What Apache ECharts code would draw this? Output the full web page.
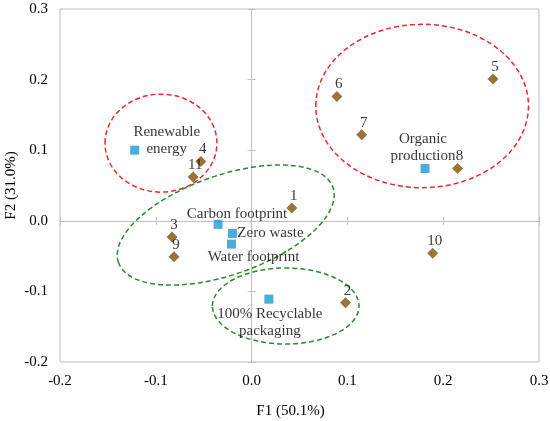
<!DOCTYPE html>
<html>
<head>
<meta charset="utf-8">
<script src="https://cdn.jsdelivr.net/npm/echarts@6/dist/echarts.min.js"></script>
<style>
  html, body { margin: 0; padding: 0; background: #fff; }
  #biplot { width: 550px; height: 421px; }
</style>
</head>
<body>
<div id="biplot"></div>
<script>
// observations (numbered brown diamonds)
var obsNames = ["1", "2", "3", "4", "5", "6", "7", "8", "9", "10", "11"];
var obsF1 = [0.042, 0.098, -0.083, -0.053, 0.252, 0.089, 0.115, 0.215, -0.081, 0.189, -0.061];
var obsF2 = [0.018, -0.116, -0.023, 0.084, 0.201, 0.176, 0.122, 0.074, -0.051, -0.046, 0.062];

// attributes (blue squares)
var attrNames = ["Renewable\nenergy", "Organic\nproduction", "Carbon footprint", "Zero waste", "Water footprint", "100% Recyclable\npackaging"];
var attrF1 = [-0.122, 0.181, -0.035, -0.020, -0.021, 0.018];
var attrF2 = [0.100, 0.074, -0.005, -0.018, -0.033, -0.111];

// group ellipses: centre (F1, F2), radii (F1 units, F2 units), tilt in degrees
var ellCx = [-0.0946, 0.178, -0.027, 0.0356];
var ellCy = [0.110, 0.1626, -0.006, -0.1207];
var ellRx = [0.0584, 0.111, 0.1186, 0.0765];
var ellRy = [0.0694, 0.1157, 0.0703, 0.0538];
var ellTilt = [0, 0, 19.3, 0];
var ellGroup = ["red", "red", "green", "green"];

var FONT = "Liberation Serif";
var GRIDLINE = "#bfbfbf";
var colors = { red: "#f0262a", green: "#2b8a2b" };

// where each attribute label sits relative to its square
var attrLabelOffset = {
  "Renewable\nenergy": [32, -10],
  "Organic\nproduction": [-2, -21],
  "Carbon footprint": [19, -10],
  "Zero waste": [38, 0],
  "Water footprint": [22, 13],
  "100% Recyclable\npackaging": [1, 23]
};

var obsData = obsNames.map(function (n, i) {
  return { name: n, value: [obsF1[i], obsF2[i]] };
});
var attrData = attrNames.map(function (n, i) {
  return {
    name: n,
    value: [attrF1[i], attrF2[i]],
    label: { offset: attrLabelOffset[n] }
  };
});
var ellData = ellCx.map(function (c, i) {
  return [c, ellCy[i], ellRx[i], ellRy[i], ellTilt[i], ellGroup[i]];
});

function fmt(v) { return v.toFixed(1); }

var labelAxis = {
  type: "value", min: -0.2, max: 0.3, interval: 0.1,
  axisLine: { show: false, onZero: false },
  axisTick: { show: false },
  splitLine: { show: false },
  axisLabel: { formatter: fmt, color: "#000", fontFamily: FONT, fontSize: 15 }
};
function zeroAxis(inside, onZeroIdx) {
  return {
    type: "value", min: -0.2, max: 0.3, interval: 0.1,
    axisLine: { show: true, onZero: true, onZeroAxisIndex: onZeroIdx, lineStyle: { color: GRIDLINE, width: 1 } },
    axisTick: { show: true, inside: inside, length: 4, lineStyle: { color: GRIDLINE } },
    splitLine: { show: false },
    axisLabel: { show: false }
  };
}

var chart = echarts.init(document.getElementById("biplot"));
var option = {
  animation: false,
  backgroundColor: "#fff",
  grid: {
    left: 60, right: 11, top: 9, bottom: 59,
    outerBoundsMode: "none", containLabel: false,
    show: true, borderColor: GRIDLINE, borderWidth: 1
  },
  xAxis: [
    Object.assign({}, labelAxis, {
      position: "bottom",
      name: "F1 (50.1%)", nameLocation: "middle", nameGap: 42,
      nameTextStyle: { color: "#000", fontFamily: FONT, fontSize: 15, padding: [0, 18, 0, 0] },
      axisLabel: Object.assign({}, labelAxis.axisLabel, { margin: 12 })
    }),
    Object.assign(zeroAxis(false, 0), { position: "bottom" }),
    Object.assign(zeroAxis(true, 0), { position: "bottom" })
  ],
  yAxis: [
    Object.assign({}, labelAxis, {
      position: "left",
      name: "F2 (31.0%)", nameLocation: "middle", nameGap: 41, nameMoveOverlap: false,
      nameTextStyle: { color: "#000", fontFamily: FONT, fontSize: 15 },
      axisLabel: Object.assign({}, labelAxis.axisLabel, { margin: 12 })
    }),
    Object.assign(zeroAxis(false, 0), { position: "left" }),
    Object.assign(zeroAxis(true, 0), { position: "left" })
  ],
  series: [
    {
      type: "custom",
      silent: true,
      xAxisIndex: 0, yAxisIndex: 0,
      data: ellData,
      renderItem: function (params, api) {
        var c = api.coord([api.value(0), api.value(1)]);
        var s = api.size([api.value(2), api.value(3)]);
        var d = ellData[params.dataIndex];
        return {
          type: "ellipse",
          x: c[0], y: c[1],
          rotation: d[4] * Math.PI / 180,
          shape: { cx: 0, cy: 0, rx: s[0], ry: s[1] },
          style: { fill: "none", stroke: colors[d[5]], lineWidth: 1.5, lineDash: [5, 3] }
        };
      },
      z: 1
    },
    {
      type: "scatter",
      xAxisIndex: 0, yAxisIndex: 0,
      symbol: "rect", symbolSize: 9,
      itemStyle: { color: "#1d98d4" },
      data: attrData,
      label: {
        show: true, position: "inside", formatter: "{b}",
        color: "#000", fontFamily: FONT, fontSize: 15, lineHeight: 17, align: "center"
      },
      z: 3
    },
    {
      type: "scatter",
      xAxisIndex: 0, yAxisIndex: 0,
      symbol: "diamond", symbolSize: 11,
      itemStyle: { color: "#80530a" },
      data: obsData,
      label: {
        show: true, position: "inside", offset: [2, -12], formatter: "{b}",
        color: "#000", fontFamily: FONT, fontSize: 15
      },
      z: 4
    }
  ]
};
chart.setOption(option);
</script>
</body>
</html>
